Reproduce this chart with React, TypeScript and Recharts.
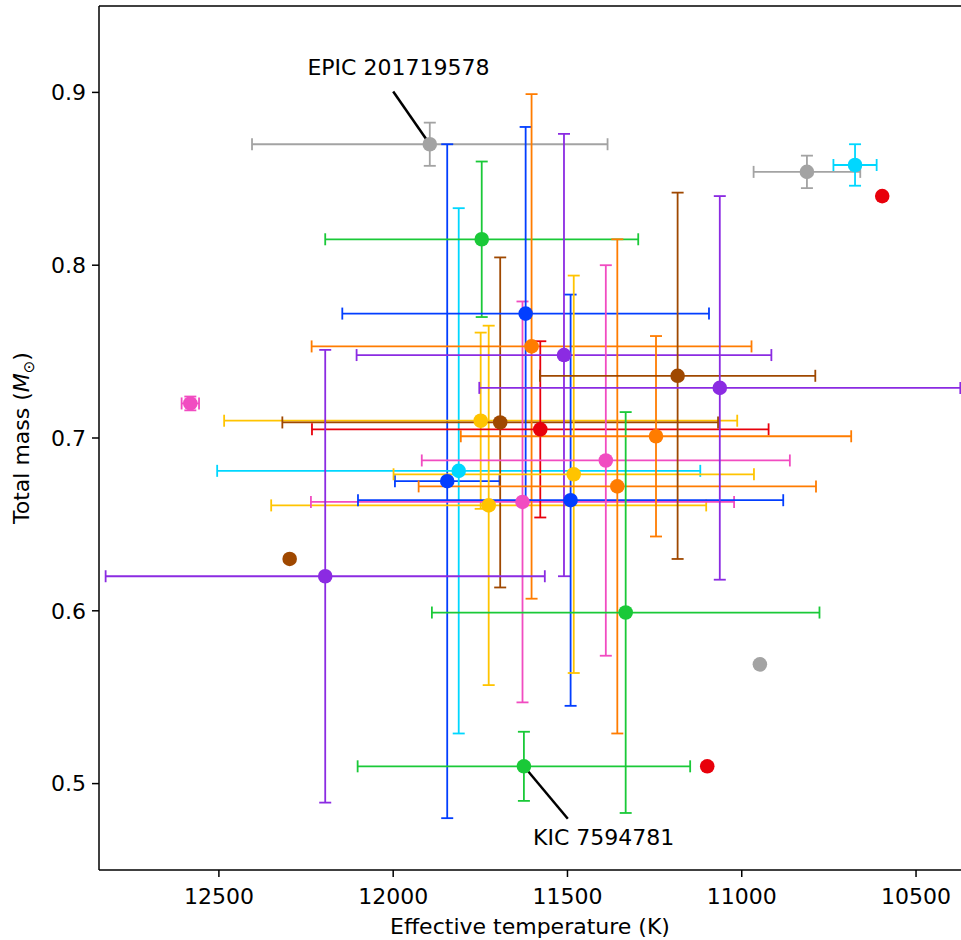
import { ScatterChart, Scatter, XAxis, YAxis, ErrorBar, ReferenceLine, ReferenceDot } from 'recharts';

// one entry per star, in plotting order
const starGroup = [
  'gray', 'blue', 'cyan', 'green', 'yellow', 'yellow', 'brown', 'pink', 'blue', 'orange',
  'red', 'purple', 'blue', 'yellow', 'pink', 'orange', 'green', 'orange', 'brown', 'purple',
  'green', 'purple', 'gray', 'cyan', 'red', 'gray', 'red', 'pink', 'brown',
];
const teff = [
  11895, 11845, 11812, 11746, 11749, 11726, 11693, 11629, 11620, 11603,
  11578, 11510, 11491, 11482, 11390, 11357, 11333, 11246, 11184, 11063,
  11625, 12195, 10813, 10675, 10597, 10948, 11099, 12582, 12297,
];
const teffErr = [
  510, 150, 693, 449, 736, 624, 625, 607, 526, 631,
  655, 595, 610, 517, 528, 570, 556, 560, 395, 690,
  477, 630, 153, 62, 0, 0, 0, 25, 0,
];
const mass = [
  0.870, 0.675, 0.681, 0.815, 0.710, 0.661, 0.709, 0.663, 0.772, 0.753,
  0.705, 0.748, 0.664, 0.679, 0.687, 0.672, 0.599, 0.701, 0.736, 0.729,
  0.510, 0.620, 0.854, 0.858, 0.840, 0.569, 0.510, 0.720, 0.630,
];
const massErr = [
  0.0125, 0.195, 0.152, 0.045, 0.051, 0.104, 0.0955, 0.116, 0.108, 0.146,
  0.051, 0.128, 0.119, 0.115, 0.113, 0.143, 0.116, 0.058, 0.106, 0.111,
  0.020, 0.131, 0.0094, 0.012, 0, 0, 0, 0.004, 0,
];

const xTicks = [12500, 12000, 11500, 11000, 10500];
const yTicks = [0.5, 0.6, 0.7, 0.8, 0.9];

const annotations = [
  { label: 'EPIC 201719578', star: 0, textTeff: 11985, textMass: 0.9145, lineTeff: 12000, lineMass: 0.9005 },
  { label: 'KIC 7594781', star: 20, textTeff: 11396, textMass: 0.4687, lineTeff: 11499, lineMass: 0.4797 },
];

const palette: Record<string, string> = {
  blue: '#023eff',
  orange: '#ff7c00',
  green: '#1ac938',
  red: '#e8000b',
  purple: '#8b2be2',
  brown: '#9f4800',
  pink: '#f14cc1',
  gray: '#a3a3a3',
  yellow: '#ffc400',
  cyan: '#00d7ff',
};

const FONT = 22;

const stars = teff.map((t, i) => ({
  teff: t,
  mass: mass[i],
  teffErr: teffErr[i],
  massErr: massErr[i],
  color: palette[starGroup[i]],
}));

function XLabel({ viewBox }: any) {
  const { x, y, width } = viewBox;
  return (
    <text x={x + width / 2} y={y + 64} textAnchor="middle" fontSize={FONT} fill="#000">
      Effective temperature (K)
    </text>
  );
}

function YLabel({ viewBox }: any) {
  const { x, y, height } = viewBox;
  const cx = x + 29;
  const cy = y + height / 2;
  return (
    <text x={cx} y={cy} transform={`rotate(-90, ${cx}, ${cy})`} textAnchor="middle" fontSize={FONT} fill="#000">
      Total mass (<tspan fontStyle="italic">M</tspan>
      <tspan fontSize={15} dy={5}>⊙</tspan>
      <tspan dy={-5}>)</tspan>
    </text>
  );
}

export default function App() {
  return (
    <div style={{ position: 'absolute', left: 0, top: 0, background: '#fff', fontFamily: 'DejaVu Sans' }}>
      <ScatterChart width={961} height={940} margin={{ top: 6, right: 0, bottom: 0, left: 0 }}>
        <XAxis
          type="number"
          dataKey="teff"
          domain={[10371, 12844]}
          reversed
          allowDataOverflow
          ticks={xTicks}
          height={70}
          tickSize={7}
          tickMargin={11}
          tick={{ fill: '#000', fontSize: FONT }}
          axisLine={{ stroke: '#000', strokeWidth: 1.5 }}
          tickLine={{ stroke: '#000', strokeWidth: 1.5 }}
          label={<XLabel />}
        />
        <YAxis
          type="number"
          dataKey="mass"
          domain={[0.45, 0.95]}
          allowDataOverflow
          ticks={yTicks}
          width={99}
          tickSize={7}
          tickMargin={6}
          tickFormatter={(v: number) => v.toFixed(1)}
          tick={{ fill: '#000', fontSize: FONT }}
          axisLine={{ stroke: '#000', strokeWidth: 1.5 }}
          tickLine={{ stroke: '#000', strokeWidth: 1.5 }}
          label={<YLabel />}
        />
        <ReferenceLine y={0.95} stroke="#000" strokeWidth={1.5} />
        {stars.map((s, i) => (
          <Scatter
            key={`star-${i}`}
            data={[s]}
            fill={s.color}
            isAnimationActive={false}
            shape={(p: any) => <circle cx={p.cx} cy={p.cy} r={7.3} fill={s.color} />}
          >
            {s.teffErr > 0 && (
              <ErrorBar dataKey="teffErr" direction="x" width={6} stroke={s.color} strokeWidth={1.8} isAnimationActive={false} />
            )}
            {s.massErr > 0 && (
              <ErrorBar dataKey="massErr" direction="y" width={6} stroke={s.color} strokeWidth={1.8} isAnimationActive={false} />
            )}
          </Scatter>
        ))}
        {annotations.map((a) => (
          <ReferenceLine
            key={`line-${a.label}`}
            segment={[
              { x: a.lineTeff, y: a.lineMass },
              { x: teff[a.star], y: mass[a.star] },
            ]}
            stroke="#000"
            strokeWidth={2.5}
            ifOverflow="visible"
          />
        ))}
        {annotations.map((a) => (
          <ReferenceDot
            key={`text-${a.label}`}
            x={a.textTeff}
            y={a.textMass}
            r={0}
            stroke="none"
            ifOverflow="visible"
            label={{ value: a.label, position: 'center', fill: '#000', fontSize: FONT }}
          />
        ))}
      </ScatterChart>
    </div>
  );
}
